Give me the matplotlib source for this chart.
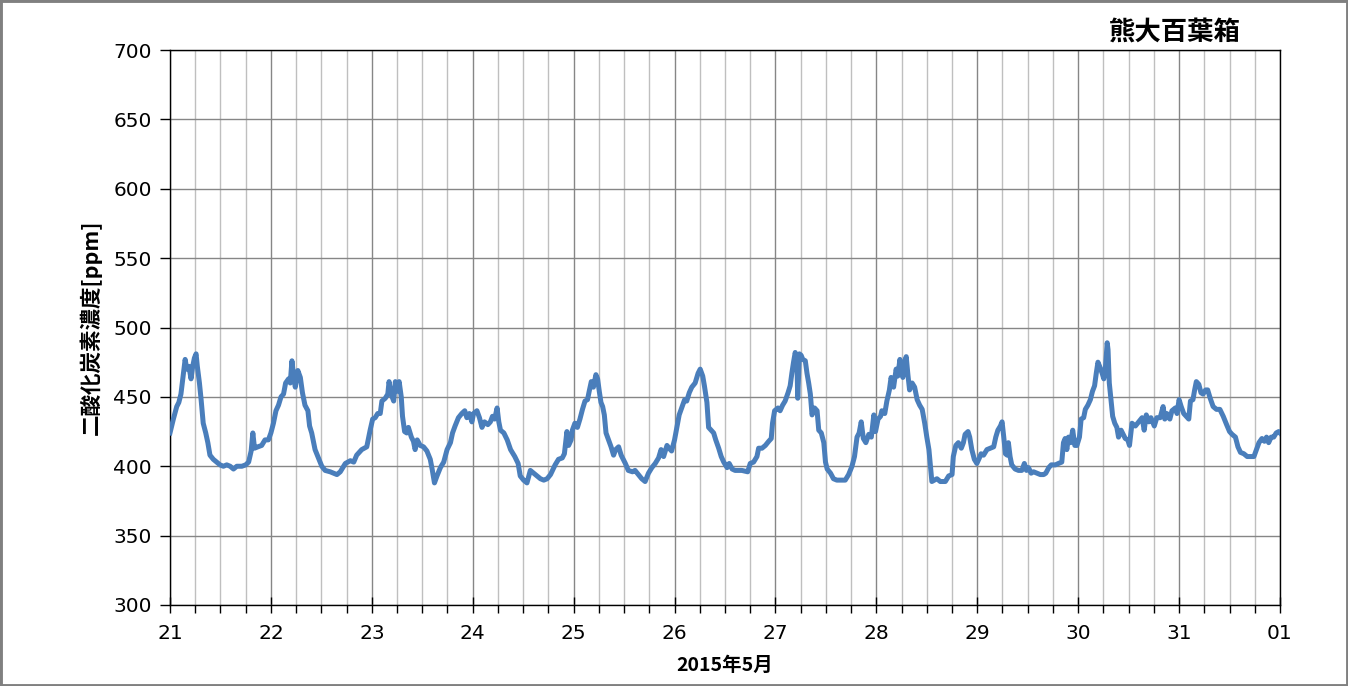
import numpy as np
import pandas as pd
import matplotlib
matplotlib.use("Agg")
import matplotlib.pyplot as plt
import matplotlib.dates as mdates
from matplotlib.patches import Rectangle

plt.rcParams['font.family'] = ['Noto Sans CJK JP', 'DejaVu Sans']

# hours since 2015-05-21 00:00, CO2 [ppm]
hours = [0, 0.8, 1.6, 2.1, 2.6, 3.2, 3.6, 4, 4.5, 5, 5.4, 5.8, 6.2, 6.5, 7, 7.4, 7.9, 8.5, 9, 9.5,
         10.3, 11.1, 11.9, 12.7, 13.5, 14.3, 15.1, 15.9, 17.1, 18, 18.7, 19.3, 19.7, 20.1, 20.9, 21.8,
         22.6, 23.4, 24, 24.6, 25.2, 25.8, 26.4, 27, 27.5, 28.2, 28.6, 29, 29.4, 29.8, 30.4, 31, 31.5,
         32.1, 32.8, 33.2, 33.7, 34.5, 35.3, 36.1, 36.9, 38.1, 38.9, 39.7, 40.5, 41.7, 42.9, 43.7,
         44.4, 45.6, 46.8, 47.6, 48.2, 48.8, 49.4, 50, 50.4, 51.2, 51.8, 52.1, 52.6, 53.2, 53.6, 54,
         54.5, 55, 55.3, 55.8, 56.3, 56.7, 57.4, 57.9, 58.3, 58.8, 59.5, 60.3, 61.1, 61.9, 62.4, 62.9,
         63.5, 64.3, 65.1, 65.9, 66.7, 67.2, 67.8, 68.6, 69.4, 70.1, 70.6, 71.2, 71.8, 72.2, 73, 73.6,
         74.2, 74.8, 75.6, 76.2, 76.7, 77.2, 77.8, 78.2, 78.6, 79.4, 80.2, 81, 82, 82.8, 83.3, 84.1,
         84.9, 85.7, 86.5, 87.3, 88.1, 88.9, 89.7, 90.5, 91.6, 92.4, 93.3, 93.8, 94.4, 94.8, 95.4,
         95.7, 96.3, 96.9, 97.5, 98.1, 98.7, 99.3, 99.7, 100.2, 100.7, 101.3, 101.7, 102.1, 102.5,
         102.9, 103.3, 103.7, 104.3, 104.9, 105.5, 106, 106.7, 107.3, 108.3, 109, 110, 110.6, 111.4,
         112.2, 113, 113.8, 114.6, 115.4, 116.2, 116.8, 117.4, 118.2, 118.7, 119.3, 120, 120.6, 121.1,
         121.7, 122.4, 122.9, 123.5, 124.1, 124.9, 125.6, 126.1, 126.7, 127.1, 127.7, 128.1, 128.7,
         129.3, 129.8, 130.5, 131.1, 131.7, 132.5, 133, 133.7, 134.4, 136, 137.4, 138, 138.8, 139.6,
         140, 140.8, 141.6, 142.4, 143, 143.3, 143.8, 144.6, 145.1, 145.7, 146.3, 147, 147.5, 147.9,
         148.3, 148.7, 149.1, 149.3, 149.7, 150.1, 150.5, 151.1, 151.5, 151.9, 152.3, 152.7, 153.3,
         153.9, 154.3, 154.9, 155.5, 155.9, 156.3, 157.1, 157.8, 158.6, 159.7, 160.6, 161.4, 162.2,
         162.8, 163.4, 163.9, 164.4, 164.9, 165.5, 166.2, 166.8, 167.4, 167.8, 168.4, 169, 169.3, 170,
         170.5, 171.1, 171.5, 172.1, 172.7, 173.1, 173.6, 173.9, 174.3, 174.7, 175.1, 175.5, 175.9,
         176.5, 177.1, 177.7, 178.3, 178.9, 179.5, 180, 180.5, 181.2, 182.4, 183.2, 184.4, 185.2,
         186, 186.3, 186.9, 187.5, 188.2, 188.7, 189.1, 189.8, 190.2, 190.7, 191.3, 191.9, 192.5,
         192.9, 193.5, 194.3, 195.1, 195.9, 196.4, 196.9, 197.5, 197.9, 198.3, 198.7, 199.1, 199.4,
         199.8, 200.2, 201, 201.8, 202.6, 203.2, 203.7, 204.2, 204.8, 205.4, 206.2, 207, 207.8, 208.3,
         209, 209.6, 210.6, 211.3, 212.1, 212.5, 212.9, 213.3, 213.7, 214.2, 214.7, 215.2, 215.7,
         216.3, 216.7, 217.3, 217.7, 218.3, 218.9, 219.4, 219.9, 220.3, 220.7, 221.1, 221.7, 222.1,
         222.5, 222.9, 223.1, 223.4, 223.8, 224.2, 224.7, 225.2, 225.6, 226.2, 226.7, 227.2, 227.8,
         228.2, 228.8, 229.6, 230.4, 231.2, 231.7, 232.2, 232.8, 233.3, 234.1, 234.7, 235.5, 236.2,
         236.6, 237.1, 237.8, 238.3, 239.1, 239.5, 240, 240.5, 241.1, 241.7, 242.3, 242.7, 243.3,
         243.7, 244.1, 244.7, 245.2, 245.7, 246.3, 246.8, 247.4, 248.1, 248.9, 249.7, 250.5, 251.3,
         252, 252.6, 253.4, 254, 254.6, 255.4, 256.2, 257, 257.8, 258.4, 259, 259.7, 260.3, 260.8,
         261.3, 261.9, 262.5, 263.1, 263.7, 264]
ppm = [424, 434, 443, 446, 452, 467, 477, 470, 472, 463, 472, 478, 481, 472, 460, 448, 431, 424, 417, 408,
       405, 403, 401, 400, 401, 400, 398, 400, 400, 401, 403, 411, 424, 413, 414, 415,
       419, 419, 424, 431, 440, 444, 450, 452, 460, 463, 460, 476, 465, 457, 469, 464, 453,
       444, 440, 429, 424, 412, 406, 400, 397, 396, 395, 394, 396, 402, 404, 403,
       408, 412, 414, 426, 434, 435, 438, 438, 447, 449, 452, 461, 452, 447, 461, 454,
       461, 450, 436, 425, 424, 428, 421, 418, 412, 419, 415, 414, 411, 405, 397, 388,
       393, 399, 403, 412, 417, 424, 429, 435, 438, 440, 435, 438, 432, 438, 440, 435,
       428, 432, 430, 432, 436, 434, 442, 432, 426, 424, 419, 412, 407, 402, 393, 390,
       388, 397, 395, 393, 391, 390, 391, 394, 401, 405, 406, 409, 425, 415, 419,
       426, 431, 428, 434, 441, 447, 448, 454, 461, 457, 466, 463, 454, 446,
       443, 437, 424, 419, 414, 408, 412, 414, 408, 402, 397, 396, 397, 394,
       391, 389, 395, 399, 402, 406, 412, 407, 415, 413, 411, 419, 429, 437,
       442, 448, 447, 453, 457, 460, 467, 470, 465, 458, 446, 428, 426,
       424, 419, 413, 407, 403, 399, 402, 398, 397, 397, 396, 402, 403, 407,
       413, 413, 415, 418, 420, 431, 440, 442, 440, 444, 447, 453, 458, 467,
       475, 482, 476, 449, 481, 480, 477, 476, 467, 460, 452, 437, 442,
       440, 426, 424, 417, 403, 398, 395, 391, 390, 390, 390, 394, 400,
       407, 421, 424, 432, 420, 417, 423, 421, 437, 425, 434, 436, 440, 438,
       447, 455, 464, 457, 470, 465, 477, 469, 464, 475, 479, 466, 455,
       460, 457, 448, 444, 441, 431, 421, 412, 389, 391, 389, 389, 393,
       394, 407, 415, 417, 413, 417, 423, 425, 421, 412, 405, 402, 406,
       409, 408, 412, 413, 414, 421, 426, 429, 432, 421, 409, 408, 417,
       407, 401, 398, 397, 397, 402, 397, 399, 395, 396, 395, 394, 394, 395,
       399, 401, 401, 402, 403, 417, 420, 412, 421, 417, 426, 415, 415,
       421, 434, 435, 441, 444, 448, 454, 458, 467, 475, 472, 467, 463,
       472, 489, 484, 460, 448, 436, 431, 428, 421, 426, 423, 420, 419,
       415, 431, 429, 432, 435, 426, 437, 432, 435, 429, 435, 435, 443,
       434, 438, 434, 440, 442, 438, 448, 443, 438, 436, 434, 447, 448,
       455, 461, 459, 453, 452, 455, 455, 449, 443, 441, 441, 436, 430,
       425, 423, 421, 414, 410, 409, 407, 407, 407, 412, 417, 420, 418, 421,
       417, 421, 421, 424, 425, 424]

start = pd.Timestamp("2015-05-21")
times = start + pd.to_timedelta(hours, unit="h")

fig = plt.figure(figsize=(13.48, 6.86), dpi=100)
ax = fig.add_axes([170/1348, 1-605/686, 1110/1348, 555/686])

ax.plot(times, ppm, color="#4a7ebb", linewidth=3.6, solid_joinstyle="round", zorder=3)

ax.set_xlim(start, pd.Timestamp("2015-06-01"))
ax.set_ylim(300, 700)
ax.set_yticks(np.arange(300, 701, 50))

ax.xaxis.set_major_locator(mdates.DayLocator())
ax.xaxis.set_major_formatter(mdates.DateFormatter("%d"))
ax.xaxis.set_minor_locator(mdates.HourLocator(byhour=[6, 12, 18]))

ax.grid(which="major", axis="both", color="#868686", linewidth=1.0, zorder=1)
ax.grid(which="minor", axis="x", color="#bfbfbf", linewidth=1.0, zorder=1)
ax.set_axisbelow(True)

for s in ax.spines.values():
    s.set_color("black")
    s.set_linewidth(1.0)

ax.tick_params(axis="y", which="major", direction="out", length=7, width=1, pad=6, labelsize=14.5)
ax.tick_params(axis="x", which="major", direction="inout", length=12, width=1, pad=8, labelsize=14.5)
ax.tick_params(axis="x", which="minor", direction="out", length=6, width=1)
for lab in ax.get_xticklabels() + ax.get_yticklabels():
    lab.set_fontfamily("DejaVu Sans")

ax.set_xlabel("2015年5月", fontsize=14, fontweight="bold", labelpad=9)
ax.set_ylabel("二酸化炭素濃度[ppm]", fontsize=15.5, fontweight="bold", labelpad=8)

fig.text(1175/1348, 1-32/686, "熊大百葉箱", fontsize=19, fontweight="bold",
         ha="center", va="center")

fig.patches.append(Rectangle((0, 0), 1, 1, transform=fig.transFigure, fill=False,
                             edgecolor="#808080", linewidth=3.5, zorder=10))

fig.savefig("out.png", dpi=100)
